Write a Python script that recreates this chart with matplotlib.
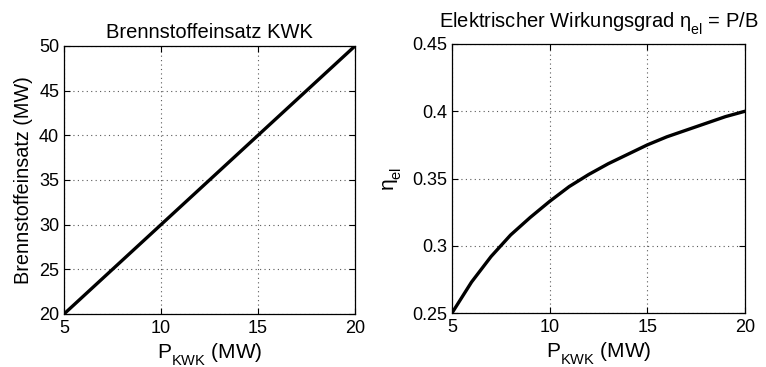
import matplotlib
matplotlib.use("Agg")
import matplotlib.pyplot as plt

# Electrical output of the CHP unit (MW)
p_kwk = [5, 6, 7, 8, 9, 10, 11, 12, 13, 14, 15, 16, 17, 18, 19, 20]
# Fuel input (MW)
brennstoff = [20, 22, 24, 26, 28, 30, 32, 34, 36, 38, 40, 42, 44, 46, 48, 50]
# Electrical efficiency
eta_el = [0.25, 0.273, 0.292, 0.308, 0.321, 0.333, 0.344, 0.353, 0.361,
          0.368, 0.375, 0.381, 0.386, 0.391, 0.396, 0.40]

x_ticks = [5, 10, 15, 20]
y1_ticks = [20, 25, 30, 35, 40, 45, 50]
y2_ticks = [0.25, 0.3, 0.35, 0.4, 0.45]
y2_labels = ["0.25", "0.3", "0.35", "0.4", "0.45"]

plt.rcParams["font.family"] = ["Liberation Sans", "DejaVu Sans"]
plt.rcParams["mathtext.fontset"] = "custom"
plt.rcParams["mathtext.rm"] = "Liberation Sans"
plt.rcParams["mathtext.it"] = "Liberation Sans"
plt.rcParams["mathtext.default"] = "regular"

# deeper subscripts, as in classic engineering plots
try:
    import matplotlib._mathtext as _mt
    _mt.FontConstantsBase.sub1 = 0.65
except Exception:
    pass

fig = plt.figure(figsize=(7.66, 3.67), dpi=100)
W, H = 766, 367
ax1 = fig.add_axes([64 / W, 1 - 314 / H, (355 - 64) / W, (314 - 46) / H])
ax2 = fig.add_axes([452 / W, 1 - 313 / H, (745 - 452) / W, (313 - 44) / H])


def style(ax):
    ax.tick_params(direction="in", top=True, right=True, labelsize=13,
                   length=4, width=0.8, pad=3.5)
    ax.tick_params(axis="x", pad=4.5)
    ax.grid(True, linestyle=(0, (1, 3)), color="0.35", linewidth=0.8)
    for s in ax.spines.values():
        s.set_linewidth(0.9)
    ax.set_xlim(5, 20)
    ax.set_xticks(x_ticks)


ax1.plot(p_kwk, brennstoff, color="black", linewidth=2.4)
style(ax1)
ax1.set_ylim(20, 50)
ax1.set_yticks(y1_ticks)
ax1.set_title("Brennstoffeinsatz KWK", fontsize=14.5, pad=6)
ax1.set_xlabel(r"P$_{\mathrm{KWK}}$ (MW)", fontsize=15, labelpad=3)
ax1.set_ylabel("Brennstoffeinsatz (MW)", fontsize=14.3, labelpad=4.5)

ax2.plot(p_kwk, eta_el, color="black", linewidth=2.4)
style(ax2)
ax2.set_ylim(0.25, 0.45)
ax2.set_yticks(y2_ticks)
ax2.set_yticklabels(y2_labels)
ax2.set_title("Elektrischer Wirkungsgrad η$_{\\mathrm{el}}$ = P/B",
              fontsize=14.5, pad=11.5)
ax2.set_xlabel(r"P$_{\mathrm{KWK}}$ (MW)", fontsize=15, labelpad=3)
ax2.set_ylabel("η$_{\\mathrm{el}}$", fontsize=15, labelpad=6)

fig.savefig("out.png", dpi=100)
